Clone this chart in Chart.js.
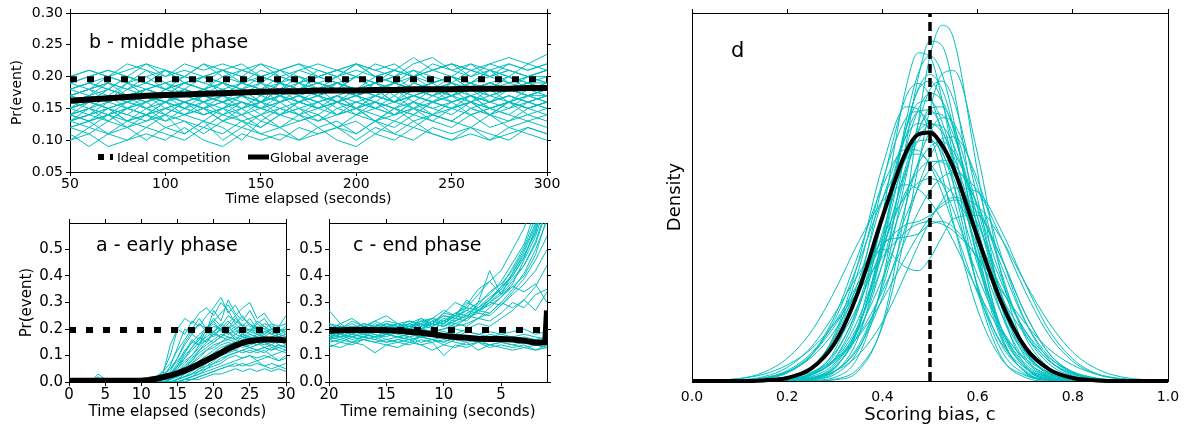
<!DOCTYPE html>
<html><head><meta charset="utf-8">
<script src="https://cdn.jsdelivr.net/npm/chart.js@4.4.1/dist/chart.umd.min.js"></script>
<style>
html,body{margin:0;padding:0;background:#fff;}
#wrap{position:relative;width:1187px;height:426px;overflow:hidden;background:#fff;}
canvas{position:absolute;}
</style></head><body>
<div id="wrap">
<canvas id="cb" width="570" height="215" style="left:0px;top:0px"></canvas>
<canvas id="ca" width="300" height="221" style="left:0px;top:205px"></canvas>
<canvas id="cc" width="270" height="221" style="left:290px;top:205px"></canvas>
<canvas id="cd" width="547" height="426" style="left:640px;top:0px"></canvas>
</div>
<script>
// ---------- Panel b: middle phase ----------
const B_X = [50,60,70,80,90,100,110,120,130,140,150,160,170,180,190,200,210,220,230,240,250,260,270,280,290,300];
const B_IDEAL = 0.196;
const B_MEAN = [0.162,0.164,0.166,0.168,0.170,0.171,0.172,0.173,0.174,0.175,0.176,0.177,0.177,0.178,0.178,0.178,0.179,0.179,0.180,0.180,0.180,0.181,0.181,0.181,0.182,0.182];
const B_RUNS = [
[0.19,0.20,0.21,0.20,0.19,0.21,0.20,0.22,0.20,0.21,0.20,0.19,0.21,0.20,0.21,0.22,0.20,0.21,0.20,0.22,0.21,0.20,0.22,0.21,0.20,0.21],
[0.20,0.21,0.20,0.22,0.21,0.20,0.22,0.21,0.22,0.21,0.22,0.20,0.21,0.22,0.21,0.20,0.22,0.21,0.23,0.21,0.22,0.21,0.22,0.23,0.22,0.235],
[0.18,0.19,0.18,0.20,0.19,0.18,0.19,0.20,0.19,0.18,0.20,0.19,0.20,0.19,0.18,0.20,0.19,0.20,0.21,0.19,0.20,0.19,0.21,0.20,0.19,0.20],
[0.17,0.18,0.19,0.17,0.18,0.19,0.18,0.17,0.19,0.18,0.19,0.18,0.20,0.18,0.19,0.18,0.19,0.20,0.18,0.19,0.20,0.18,0.19,0.20,0.19,0.19],
[0.16,0.17,0.18,0.17,0.16,0.18,0.17,0.18,0.19,0.17,0.18,0.17,0.18,0.19,0.18,0.17,0.18,0.19,0.18,0.17,0.19,0.18,0.19,0.18,0.17,0.18],
[0.15,0.16,0.17,0.16,0.18,0.17,0.16,0.17,0.18,0.17,0.16,0.18,0.17,0.16,0.17,0.18,0.17,0.16,0.18,0.17,0.18,0.16,0.17,0.18,0.17,0.18],
[0.14,0.15,0.16,0.17,0.15,0.16,0.17,0.16,0.15,0.17,0.16,0.17,0.16,0.18,0.16,0.17,0.16,0.15,0.17,0.16,0.17,0.18,0.16,0.17,0.16,0.17],
[0.15,0.14,0.16,0.15,0.17,0.15,0.16,0.15,0.17,0.16,0.14,0.16,0.17,0.15,0.16,0.17,0.15,0.16,0.17,0.16,0.15,0.17,0.16,0.15,0.17,0.16],
[0.14,0.15,0.13,0.15,0.16,0.14,0.16,0.15,0.14,0.16,0.15,0.17,0.15,0.14,0.16,0.15,0.16,0.14,0.16,0.15,0.16,0.17,0.15,0.16,0.15,0.16],
[0.13,0.14,0.15,0.13,0.14,0.16,0.14,0.15,0.13,0.15,0.16,0.14,0.15,0.16,0.14,0.15,0.13,0.15,0.16,0.14,0.15,0.16,0.14,0.15,0.16,0.15],
[0.13,0.12,0.14,0.13,0.15,0.13,0.14,0.15,0.13,0.14,0.12,0.14,0.15,0.13,0.14,0.15,0.13,0.14,0.15,0.14,0.13,0.15,0.14,0.16,0.14,0.15],
[0.12,0.13,0.11,0.13,0.12,0.14,0.11,0.13,0.12,0.10,0.13,0.12,0.14,0.12,0.13,0.11,0.13,0.12,0.14,0.13,0.12,0.14,0.12,0.13,0.14,0.13],
[0.11,0.09,0.11,0.12,0.10,0.12,0.11,0.13,0.10,0.12,0.11,0.12,0.10,0.11,0.12,0.11,0.13,0.11,0.10,0.12,0.11,0.12,0.10,0.11,0.12,0.11],
[0.10,0.11,0.09,0.10,0.11,0.10,0.12,0.10,0.09,0.11,0.10,0.11,0.10,0.12,0.10,0.09,0.11,0.10,0.12,0.11,0.10,0.11,0.10,0.12,0.11,0.10],
[0.18,0.19,0.20,0.19,0.21,0.19,0.20,0.19,0.21,0.20,0.19,0.21,0.20,0.19,0.20,0.21,0.20,0.19,0.21,0.20,0.19,0.21,0.20,0.21,0.20,0.21],
[0.16,0.17,0.16,0.18,0.17,0.16,0.18,0.17,0.18,0.17,0.19,0.17,0.18,0.17,0.19,0.18,0.17,0.19,0.18,0.17,0.18,0.19,0.17,0.18,0.19,0.18],
[0.15,0.16,0.15,0.14,0.16,0.17,0.15,0.16,0.17,0.15,0.16,0.17,0.16,0.15,0.17,0.16,0.17,0.16,0.15,0.17,0.16,0.17,0.15,0.16,0.17,0.16],
[0.14,0.13,0.15,0.14,0.13,0.15,0.14,0.16,0.14,0.15,0.13,0.15,0.14,0.16,0.14,0.15,0.14,0.13,0.15,0.14,0.16,0.14,0.15,0.14,0.16,0.15],
[0.19,0.20,0.21,0.20,0.22,0.20,0.21,0.20,0.21,0.22,0.20,0.21,0.22,0.21,0.20,0.22,0.21,0.22,0.20,0.21,0.22,0.21,0.20,0.22,0.21,0.22],
[0.17,0.16,0.18,0.17,0.18,0.19,0.17,0.18,0.17,0.19,0.18,0.17,0.19,0.18,0.19,0.17,0.18,0.19,0.18,0.19,0.17,0.18,0.19,0.18,0.19,0.18],
[0.15,0.16,0.17,0.15,0.16,0.17,0.16,0.17,0.16,0.15,0.17,0.16,0.17,0.16,0.17,0.15,0.17,0.16,0.17,0.18,0.16,0.17,0.16,0.17,0.16,0.17],
[0.12,0.11,0.13,0.12,0.14,0.12,0.13,0.11,0.13,0.12,0.14,0.12,0.13,0.14,0.12,0.13,0.11,0.13,0.12,0.14,0.13,0.12,0.14,0.12,0.13,0.12],
[0.17,0.18,0.17,0.19,0.18,0.17,0.19,0.18,0.19,0.18,0.17,0.19,0.18,0.19,0.18,0.20,0.18,0.19,0.18,0.19,0.20,0.18,0.19,0.18,0.20,0.19],
[0.13,0.14,0.13,0.15,0.14,0.13,0.15,0.14,0.15,0.13,0.14,0.15,0.14,0.13,0.15,0.14,0.15,0.14,0.15,0.13,0.15,0.14,0.15,0.14,0.13,0.14],
[0.18,0.19,0.18,0.20,0.19,0.21,0.19,0.20,0.19,0.21,0.20,0.21,0.19,0.20,0.21,0.20,0.19,0.21,0.20,0.21,0.20,0.22,0.20,0.21,0.20,0.21],
[0.16,0.15,0.17,0.16,0.17,0.16,0.18,0.16,0.17,0.18,0.16,0.17,0.18,0.17,0.16,0.18,0.17,0.18,0.16,0.18,0.17,0.18,0.17,0.16,0.18,0.17],
[0.14,0.13,0.14,0.15,0.14,0.16,0.15,0.14,0.15,0.16,0.15,0.14,0.16,0.15,0.16,0.14,0.16,0.15,0.14,0.16,0.15,0.16,0.15,0.16,0.15,0.16],
[0.10,0.12,0.11,0.10,0.12,0.11,0.10,0.12,0.11,0.13,0.11,0.10,0.12,0.11,0.12,0.10,0.12,0.11,0.13,0.11,0.10,0.12,0.11,0.10,0.12,0.11],
[0.17,0.18,0.19,0.18,0.19,0.18,0.20,0.19,0.18,0.19,0.20,0.19,0.18,0.20,0.19,0.20,0.19,0.18,0.20,0.19,0.20,0.19,0.20,0.19,0.20,0.19],
[0.16,0.17,0.16,0.17,0.18,0.17,0.18,0.17,0.16,0.18,0.17,0.18,0.19,0.17,0.18,0.17,0.19,0.18,0.17,0.18,0.19,0.17,0.18,0.19,0.18,0.19],
[0.15,0.16,0.15,0.16,0.17,0.16,0.15,0.17,0.16,0.17,0.16,0.18,0.16,0.17,0.16,0.17,0.18,0.16,0.17,0.16,0.18,0.17,0.16,0.18,0.17,0.18],
[0.14,0.15,0.14,0.16,0.15,0.14,0.16,0.15,0.16,0.14,0.16,0.15,0.16,0.17,0.15,0.16,0.15,0.17,0.15,0.16,0.17,0.15,0.16,0.17,0.16,0.17],
[0.19,0.18,0.20,0.19,0.20,0.21,0.19,0.20,0.21,0.19,0.21,0.20,0.19,0.21,0.20,0.22,0.20,0.21,0.20,0.21,0.22,0.20,0.21,0.20,0.22,0.21],
[0.13,0.14,0.15,0.13,0.14,0.15,0.14,0.13,0.15,0.14,0.15,0.16,0.14,0.15,0.14,0.16,0.15,0.14,0.16,0.15,0.14,0.16,0.15,0.16,0.15,0.16],
[0.17,0.18,0.16,0.19,0.17,0.16,0.18,0.20,0.17,0.18,0.16,0.19,0.17,0.18,0.20,0.17,0.18,0.16,0.19,0.18,0.17,0.19,0.18,0.20,0.18,0.19],
[0.18,0.17,0.19,0.18,0.20,0.18,0.19,0.18,0.20,0.19,0.18,0.20,0.19,0.20,0.19,0.18,0.20,0.19,0.20,0.18,0.20,0.19,0.21,0.19,0.20,0.20],
[0.14,0.16,0.15,0.16,0.15,0.17,0.16,0.15,0.16,0.17,0.15,0.16,0.17,0.16,0.17,0.15,0.17,0.16,0.17,0.16,0.17,0.16,0.18,0.16,0.17,0.17],
[0.12,0.13,0.14,0.12,0.13,0.14,0.13,0.12,0.14,0.13,0.12,0.14,0.13,0.14,0.12,0.14,0.13,0.15,0.13,0.14,0.13,0.15,0.14,0.13,0.15,0.14],
[0.20,0.21,0.20,0.21,0.22,0.21,0.20,0.22,0.21,0.20,0.22,0.21,0.22,0.20,0.21,0.22,0.21,0.20,0.22,0.23,0.21,0.22,0.21,0.22,0.21,0.22],
[0.15,0.17,0.16,0.17,0.16,0.18,0.17,0.16,0.18,0.17,0.18,0.16,0.18,0.17,0.18,0.17,0.16,0.18,0.17,0.18,0.17,0.18,0.17,0.18,0.17,0.18],
[0.17,0.16,0.18,0.17,0.18,0.17,0.19,0.18,0.17,0.19,0.18,0.19,0.18,0.17,0.19,0.18,0.19,0.17,0.19,0.18,0.19,0.18,0.19,0.18,0.19,0.18],
[0.13,0.15,0.14,0.15,0.14,0.15,0.16,0.14,0.15,0.16,0.15,0.14,0.16,0.15,0.16,0.15,0.16,0.15,0.14,0.16,0.15,0.16,0.14,0.16,0.15,0.16]
];
const B_X_TICKS = [50,100,150,200,250,300];
const B_X_LABELS = ['50','100','150','200','250','300'];
const B_Y_TICKS = [0.05,0.10,0.15,0.20,0.25,0.30];
const B_Y_LABELS = ['0.05','0.10','0.15','0.20','0.25','0.30'];

// ---------- Panel a: early phase ----------
const A_X = [0,1,2,3,4,5,6,7,8,9,10,11,12,13,14,15,16,17,18,19,20,21,22,23,24,25,26,27,28,29,30];
const A_MEAN = [0.005,0.005,0.005,0.005,0.005,0.005,0.005,0.005,0.005,0.005,0.005,0.008,0.012,0.018,0.025,0.033,0.043,0.055,0.068,0.082,0.096,0.11,0.125,0.138,0.148,0.155,0.158,0.16,0.16,0.159,0.157];
const A_RUNS = [
[0,0,0,0,0,0,0,0,0,0,0,0,0.01,0.04,0.1,0.2,0.24,0.22,0.26,0.28,0.25,0.3,0.27,0.22,0.25,0.21,0.2,0.18,0.2,0.19,0.2],
[0,0.01,0,0,0.02,0,0,0,0,0,0,0,0.01,0.03,0.14,0.2,0.18,0.23,0.21,0.25,0.28,0.32,0.26,0.29,0.24,0.22,0.2,0.21,0.19,0.2,0.18],
[0,0,0,0,0.03,0.01,0,0,0,0,0,0.01,0.02,0.04,0.07,0.12,0.16,0.2,0.24,0.2,0.23,0.26,0.29,0.25,0.28,0.3,0.24,0.26,0.22,0.19,0.2],
[0.01,0,0,0,0,0,0,0,0,0,0,0,0.01,0.02,0.05,0.09,0.14,0.18,0.16,0.21,0.19,0.22,0.2,0.24,0.21,0.19,0.22,0.2,0.18,0.19,0.21],
[0,0,0,0,0,0,0,0,0,0,0.01,0.01,0.02,0.03,0.05,0.08,0.11,0.15,0.18,0.2,0.22,0.19,0.21,0.18,0.2,0.22,0.19,0.18,0.2,0.17,0.16],
[0,0,0,0,0,0,0,0,0,0,0,0,0.01,0.02,0.03,0.06,0.09,0.12,0.15,0.17,0.19,0.21,0.18,0.2,0.17,0.19,0.18,0.16,0.17,0.18,0.17],
[0,0,0,0,0,0,0,0,0,0,0,0,0,0.01,0.03,0.05,0.08,0.1,0.13,0.16,0.18,0.17,0.19,0.16,0.18,0.17,0.16,0.18,0.16,0.17,0.15],
[0,0,0,0,0,0,0,0,0,0,0,0,0,0.01,0.02,0.04,0.06,0.09,0.12,0.14,0.16,0.18,0.17,0.16,0.18,0.16,0.17,0.15,0.16,0.15,0.16],
[0,0,0,0,0,0,0,0,0,0,0,0,0,0,0.01,0.03,0.05,0.07,0.1,0.12,0.14,0.15,0.17,0.16,0.15,0.17,0.16,0.15,0.14,0.16,0.15],
[0,0,0,0,0,0,0,0,0,0,0,0,0,0,0.01,0.02,0.04,0.06,0.08,0.1,0.12,0.14,0.15,0.14,0.16,0.15,0.14,0.15,0.16,0.14,0.13],
[0,0,0,0,0,0,0,0,0,0,0,0,0,0,0.01,0.02,0.03,0.05,0.07,0.09,0.11,0.13,0.14,0.15,0.13,0.14,0.15,0.13,0.14,0.13,0.14],
[0,0,0,0,0,0,0,0,0,0,0,0,0,0,0,0.01,0.02,0.04,0.06,0.08,0.1,0.11,0.13,0.12,0.14,0.13,0.12,0.13,0.12,0.13,0.12],
[0,0,0,0,0,0,0,0,0,0,0,0,0,0,0,0.01,0.02,0.03,0.05,0.06,0.08,0.1,0.11,0.12,0.11,0.12,0.11,0.12,0.1,0.11,0.12],
[0,0,0,0,0,0,0,0,0,0,0,0,0,0,0,0,0.01,0.02,0.03,0.05,0.06,0.07,0.09,0.1,0.09,0.1,0.09,0.1,0.09,0.08,0.1],
[0,0,0,0,0,0,0,0,0,0,0,0,0,0,0,0,0.01,0.01,0.02,0.03,0.04,0.05,0.06,0.07,0.06,0.07,0.08,0.06,0.07,0.06,0.07],
[0,0,0,0,0,0,0,0,0,0,0,0,0,0,0,0,0,0.01,0.01,0.02,0.03,0.03,0.04,0.05,0.04,0.05,0.04,0.05,0.04,0.05,0.04],
[0,0,0,0,0,0,0,0,0,0,0,0,0.01,0.02,0.06,0.13,0.2,0.18,0.22,0.19,0.27,0.23,0.31,0.26,0.23,0.27,0.22,0.24,0.2,0.21,0.22],
[0,0,0,0,0,0,0,0,0,0,0,0,0,0.01,0.02,0.06,0.1,0.13,0.17,0.15,0.19,0.17,0.2,0.22,0.19,0.2,0.18,0.19,0.2,0.18,0.19],
[0,0,0,0,0,0,0,0,0,0,0,0,0,0,0.01,0.03,0.06,0.08,0.11,0.13,0.15,0.17,0.16,0.18,0.17,0.16,0.18,0.17,0.16,0.17,0.18],
[0,0,0,0,0,0,0,0,0,0,0,0,0,0,0,0.01,0.02,0.03,0.04,0.06,0.07,0.09,0.1,0.11,0.12,0.13,0.12,0.13,0.12,0.14,0.13],
[0,0,0,0,0,0,0,0,0.01,0,0,0,0,0.01,0.03,0.07,0.12,0.15,0.14,0.18,0.21,0.2,0.23,0.2,0.22,0.19,0.21,0.2,0.22,0.21,0.25],
[0,0,0,0,0,0,0,0,0,0,0,0,0,0,0,0,0.01,0.02,0.03,0.04,0.05,0.06,0.07,0.08,0.09,0.1,0.08,0.09,0.1,0.08,0.09],
[0,0,0,0,0,0,0,0,0,0,0,0,0,0.01,0.04,0.09,0.15,0.19,0.22,0.2,0.24,0.21,0.25,0.23,0.21,0.24,0.2,0.22,0.21,0.2,0.19],
[0,0,0,0,0,0,0,0,0,0,0,0,0,0.01,0.02,0.05,0.09,0.13,0.16,0.19,0.17,0.2,0.19,0.21,0.18,0.2,0.19,0.17,0.19,0.18,0.17],
[0,0,0,0,0,0,0,0,0,0,0,0,0,0,0.01,0.03,0.05,0.08,0.12,0.15,0.18,0.2,0.18,0.19,0.2,0.18,0.17,0.19,0.18,0.17,0.18],
[0,0,0,0,0,0,0,0,0,0,0,0,0,0,0.01,0.02,0.04,0.07,0.09,0.12,0.13,0.15,0.16,0.15,0.17,0.16,0.15,0.16,0.15,0.16,0.14],
[0,0,0,0,0,0,0,0,0,0,0,0,0,0,0,0.01,0.03,0.05,0.07,0.09,0.11,0.12,0.14,0.15,0.14,0.16,0.15,0.14,0.15,0.16,0.15],
[0,0,0,0,0,0,0,0,0,0,0,0,0,0,0,0.01,0.02,0.03,0.05,0.07,0.09,0.1,0.12,0.13,0.14,0.13,0.14,0.15,0.13,0.14,0.13],
[0,0,0,0,0,0,0,0,0,0,0,0,0,0,0,0,0.01,0.02,0.04,0.05,0.07,0.08,0.1,0.11,0.12,0.11,0.12,0.11,0.13,0.12,0.11],
[0,0,0,0,0,0,0,0,0,0,0,0,0,0.01,0.03,0.06,0.11,0.16,0.14,0.2,0.23,0.19,0.22,0.25,0.21,0.19,0.23,0.21,0.18,0.2,0.19],
[0,0,0,0,0,0,0,0,0,0,0,0,0,0,0.01,0.04,0.07,0.1,0.14,0.16,0.15,0.17,0.19,0.17,0.16,0.18,0.17,0.16,0.17,0.15,0.16],
[0,0,0,0,0,0,0,0,0,0,0,0,0,0,0,0,0,0.01,0.02,0.03,0.04,0.05,0.06,0.06,0.07,0.06,0.07,0.06,0.05,0.06,0.05]
];
const A_X_TICKS = [0,5,10,15,20,25,30];
const A_X_LABELS = ['0','5','10','15','20','25','30'];
const AC_Y_TICKS = [0,0.1,0.2,0.3,0.4,0.5];
const AC_Y_LABELS = ['0.0','0.1','0.2','0.3','0.4','0.5'];
const AC_IDEAL = 0.196;

// ---------- Panel c: end phase ----------
const C_X = [20,19,18,17,16,15,14,13,12,11,10,9,8,7,6,5,4,3,2,1];
const C_MEAN_X = [20,19,18,17,16,15,14,13,12,11,10,9,8,7,6,5,4,3,2,1.15,1.0];
const C_MEAN = [0.193,0.195,0.196,0.197,0.196,0.195,0.193,0.19,0.186,0.18,0.174,0.17,0.167,0.163,0.162,0.162,0.16,0.156,0.148,0.15,0.27];
const C_RUNS = [
[0.2,0.22,0.19,0.21,0.2,0.22,0.21,0.2,0.23,0.22,0.25,0.24,0.27,0.3,0.33,0.38,0.45,0.52,0.65,0.8],
[0.18,0.2,0.21,0.19,0.22,0.2,0.19,0.21,0.2,0.23,0.22,0.26,0.25,0.29,0.34,0.37,0.42,0.5,0.6,0.75],
[0.21,0.19,0.2,0.22,0.21,0.2,0.22,0.23,0.21,0.24,0.27,0.25,0.3,0.28,0.32,0.35,0.4,0.47,0.57,0.7],
[0.19,0.21,0.2,0.18,0.2,0.21,0.2,0.22,0.24,0.22,0.26,0.3,0.28,0.33,0.38,0.42,0.5,0.58,0.7,0.9],
[0.22,0.2,0.23,0.21,0.19,0.22,0.21,0.23,0.22,0.21,0.23,0.25,0.27,0.26,0.3,0.34,0.39,0.44,0.52,0.65],
[0.17,0.19,0.18,0.2,0.19,0.21,0.2,0.19,0.21,0.22,0.21,0.24,0.23,0.27,0.29,0.32,0.36,0.4,0.48,0.62],
[0.2,0.18,0.2,0.19,0.21,0.19,0.2,0.22,0.2,0.21,0.23,0.22,0.24,0.3,0.42,0.33,0.36,0.34,0.37,0.3],
[0.16,0.18,0.17,0.19,0.18,0.17,0.19,0.18,0.2,0.19,0.2,0.22,0.21,0.24,0.23,0.26,0.3,0.28,0.33,0.35],
[0.27,0.22,0.24,0.21,0.23,0.25,0.22,0.21,0.23,0.24,0.22,0.25,0.31,0.27,0.26,0.3,0.28,0.31,0.27,0.34],
[0.18,0.17,0.19,0.18,0.17,0.19,0.18,0.17,0.18,0.2,0.19,0.18,0.2,0.22,0.21,0.24,0.27,0.31,0.36,0.44],
[0.19,0.2,0.18,0.2,0.19,0.18,0.2,0.19,0.18,0.19,0.18,0.17,0.19,0.18,0.17,0.18,0.17,0.18,0.17,0.16],
[0.17,0.18,0.16,0.17,0.18,0.16,0.17,0.16,0.17,0.16,0.15,0.17,0.16,0.15,0.16,0.15,0.16,0.15,0.14,0.15],
[0.15,0.16,0.15,0.17,0.16,0.15,0.16,0.17,0.15,0.16,0.14,0.16,0.15,0.16,0.14,0.15,0.14,0.15,0.14,0.13],
[0.13,0.15,0.14,0.16,0.15,0.14,0.15,0.14,0.16,0.15,0.1,0.14,0.13,0.15,0.13,0.14,0.13,0.14,0.12,0.13],
[0.14,0.13,0.15,0.14,0.11,0.14,0.13,0.15,0.14,0.12,0.14,0.13,0.15,0.12,0.14,0.13,0.12,0.13,0.12,0.14],
[0.2,0.21,0.19,0.2,0.21,0.22,0.2,0.21,0.2,0.22,0.21,0.23,0.25,0.24,0.28,0.32,0.37,0.46,0.55,0.68],
[0.18,0.19,0.2,0.18,0.19,0.2,0.19,0.18,0.2,0.19,0.18,0.2,0.19,0.18,0.19,0.18,0.19,0.2,0.18,0.19],
[0.2,0.19,0.21,0.2,0.19,0.21,0.2,0.21,0.22,0.2,0.22,0.21,0.24,0.26,0.25,0.29,0.34,0.39,0.46,0.55],
[0.16,0.17,0.15,0.16,0.17,0.15,0.16,0.15,0.17,0.16,0.15,0.17,0.16,0.17,0.16,0.15,0.16,0.17,0.16,0.15],
[0.21,0.2,0.22,0.2,0.23,0.21,0.22,0.2,0.24,0.22,0.26,0.25,0.29,0.35,0.38,0.33,0.41,0.48,0.56,0.72],
[0.19,0.2,0.19,0.21,0.2,0.19,0.21,0.2,0.21,0.23,0.25,0.24,0.28,0.27,0.31,0.36,0.43,0.51,0.62,0.85],
[0.17,0.16,0.18,0.17,0.16,0.18,0.17,0.16,0.17,0.18,0.17,0.16,0.17,0.16,0.18,0.17,0.16,0.15,0.16,0.17],
[0.19,0.18,0.2,0.19,0.2,0.19,0.21,0.2,0.22,0.21,0.24,0.23,0.26,0.28,0.31,0.35,0.41,0.49,0.59,0.78],
[0.18,0.19,0.18,0.2,0.19,0.18,0.2,0.21,0.2,0.22,0.21,0.23,0.25,0.27,0.3,0.33,0.38,0.44,0.53,0.66],
[0.2,0.21,0.2,0.19,0.21,0.2,0.21,0.22,0.21,0.23,0.22,0.25,0.24,0.27,0.31,0.36,0.4,0.47,0.58,0.72],
[0.17,0.18,0.17,0.18,0.17,0.18,0.17,0.18,0.17,0.16,0.17,0.18,0.17,0.16,0.17,0.16,0.17,0.16,0.15,0.16],
[0.16,0.15,0.17,0.16,0.15,0.16,0.15,0.16,0.14,0.15,0.16,0.15,0.14,0.15,0.14,0.15,0.14,0.13,0.14,0.13],
[0.22,0.21,0.2,0.22,0.21,0.23,0.22,0.21,0.22,0.24,0.23,0.26,0.28,0.27,0.3,0.29,0.33,0.37,0.42,0.5],
[0.19,0.2,0.21,0.2,0.19,0.2,0.19,0.21,0.2,0.19,0.2,0.21,0.22,0.24,0.26,0.3,0.35,0.41,0.5,0.61],
[0.18,0.17,0.18,0.17,0.19,0.18,0.17,0.18,0.17,0.18,0.17,0.16,0.17,0.16,0.17,0.16,0.17,0.16,0.16,0.15]
];
const C_X_TICKS = [20,15,10,5];
const C_X_LABELS = ['20','15','10','5'];

// ---------- Panel d: scoring bias densities ----------
const D_X = [0,0.1,0.15,0.2,0.25,0.3,0.35,0.4,0.45,0.475,0.5,0.525,0.55,0.6,0.65,0.7,0.75,0.8,0.85,0.9,1.0];
const D_MEAN = [0,0,0.01,0.05,0.2,0.62,1.47,2.67,3.74,4.02,4.05,3.85,3.46,2.34,1.28,0.55,0.19,0.05,0.01,0,0];
const D_IDEAL = 0.5;
const D_RUNS = [
[0,0,0,0,0,0.02,0.17,0.93,2.9,4.2,5.3,5.8,5.57,3.4,1.23,0.25,0.03,0,0,0,0],
[0,0,0,0,0.03,0.2,0.93,2.7,4.8,5.35,5.28,4.6,3.6,1.5,0.39,0.06,0,0,0,0,0],
[0,0,0,0,0.04,0.22,0.86,2.29,4.12,4.76,5.0,4.76,4.12,2.29,0.86,0.22,0.04,0,0,0,0],
[0,0,0,0.01,0.05,0.26,0.9,2.19,3.81,4.42,4.69,4.57,4.08,2.51,1.1,0.34,0.07,0.01,0,0,0],
[0,0,0,0.01,0.07,0.29,0.9,2.09,3.52,4.08,4.37,4.34,4.0,2.67,1.31,0.48,0.12,0.02,0,0,0],
[0,0,0.01,0.05,0.22,0.7,1.64,2.95,3.99,4.2,4.11,3.76,3.19,1.9,0.85,0.28,0.07,0.02,0,0,0],
[0,0,0,0.02,0.1,0.35,0.92,1.9,3.05,3.53,3.82,3.9,3.73,2.83,1.68,0.77,0.28,0.08,0.02,0,0],
[0,0.01,0.04,0.14,0.41,1.0,1.93,2.96,3.63,3.7,3.55,3.23,2.77,1.72,0.86,0.34,0.1,0.03,0,0,0],
[0,0,0.01,0.03,0.11,0.32,0.75,1.46,2.33,2.75,3.1,3.32,3.4,3.1,2.33,1.46,0.75,0.32,0.11,0.03,0],
[0,0,0.01,0.05,0.14,0.35,0.73,1.32,2.04,2.38,2.67,2.89,2.99,2.85,2.32,1.6,0.95,0.47,0.2,0.07,0],
[0,0.01,0.05,0.17,0.45,0.95,1.6,2.15,1.85,1.8,2.0,2.35,2.65,2.7,2.0,1.1,0.45,0.15,0.04,0.01,0],
[0,0.02,0.07,0.22,0.55,1.1,1.75,2.25,2.35,2.4,2.55,2.6,2.5,2.0,1.35,0.75,0.33,0.12,0.03,0.01,0],
[0,0,0,0,0.04,0.22,0.87,2.33,4.14,4.74,4.89,4.56,3.81,1.97,0.68,0.15,0.02,0,0,0,0],
[0,0,0,0.01,0.05,0.23,0.78,1.91,3.42,4.06,4.44,4.47,4.15,2.81,1.4,0.5,0.13,0.02,0,0,0],
[0,0,0,0.02,0.11,0.43,1.26,2.64,4.01,4.39,4.42,4.11,3.53,2.04,0.85,0.25,0.06,0.01,0,0,0],
[0,0,0,0.03,0.1,0.33,0.84,1.67,2.7,3.14,3.45,3.6,3.53,2.88,1.88,0.97,0.4,0.13,0.04,0.01,0],
[0,0.01,0.03,0.13,0.42,1.06,2.08,3.17,3.78,3.76,3.51,3.08,2.53,1.43,0.62,0.21,0.06,0.01,0,0,0],
[0,0.04,0.11,0.26,0.52,0.94,1.47,2.02,2.44,2.56,2.6,2.56,2.44,2.02,1.47,0.94,0.52,0.26,0.11,0.04,0],
[0,0,0,0.02,0.1,0.37,1.02,2.14,3.45,3.92,4.18,4.15,3.84,2.67,1.42,0.57,0.17,0.04,0.01,0,0],
[0,0,0,0,0,0.03,0.21,0.89,2.48,3.49,4.43,5.0,5.06,3.7,1.73,0.53,0.1,0.01,0,0,0],
[0,0,0,0.02,0.11,0.5,1.53,3.2,4.64,4.85,4.64,4.03,3.2,1.53,0.5,0.11,0.02,0,0,0,0],
[0,0,0,0.01,0.05,0.16,0.43,0.96,1.77,2.21,2.61,2.94,3.15,3.08,2.45,1.59,0.83,0.36,0.12,0.04,0],
[0,0,0,0,0.02,0.15,0.72,2.17,4.25,5.01,5.3,5.01,4.25,2.17,0.72,0.15,0.02,0,0,0,0],
[0,0,0,0.01,0.09,0.37,1.18,2.62,4.12,4.53,4.57,4.23,3.57,2.0,0.79,0.22,0.04,0.01,0,0,0],
[0,0,0,0,0.02,0.11,0.51,1.59,3.34,4.18,4.75,4.89,4.57,2.97,1.31,0.39,0.08,0.01,0,0,0],
[0,0,0.01,0.05,0.22,0.73,1.81,3.25,4.29,4.39,4.17,3.65,2.96,1.56,0.59,0.17,0.03,0,0,0,0],
[0,0,0.02,0.07,0.22,0.58,1.26,2.18,3.1,3.42,3.58,3.57,3.37,2.57,1.61,0.81,0.33,0.11,0.03,0.01,0],
[0,0.01,0.05,0.15,0.38,0.82,1.51,2.34,3.03,3.23,3.3,3.23,3.03,2.34,1.51,0.82,0.38,0.15,0.05,0.01,0],
[0,0,0.01,0.04,0.21,0.77,1.96,3.5,4.47,4.43,4.03,3.37,2.56,1.16,0.36,0.09,0.01,0,0,0,0],
[0,0,0,0.01,0.04,0.16,0.54,1.36,2.55,3.17,3.66,3.95,3.98,3.28,2.04,0.98,0.35,0.09,0.02,0,0],
[0,0,0,0.03,0.13,0.46,1.21,2.42,3.66,4.06,4.2,4.06,3.66,2.42,1.21,0.46,0.13,0.03,0,0,0],
[0,0.01,0.04,0.15,0.42,0.9,1.55,2.2,2.55,2.6,2.7,2.85,2.95,2.75,2.0,1.1,0.45,0.14,0.04,0.01,0],
[0,0,0.01,0.06,0.22,0.65,1.48,2.63,3.65,3.91,3.93,3.72,3.3,2.16,1.1,0.43,0.13,0.03,0.01,0,0],
[0,0,0,0,0.01,0.06,0.41,1.63,3.88,4.94,5.54,5.47,4.76,2.44,0.76,0.14,0.01,0,0,0,0],
[0,0,0,0,0.03,0.16,0.58,1.52,2.89,3.57,4.07,4.29,4.2,3.17,1.77,0.72,0.22,0.05,0.01,0,0],
[0,0.04,0.14,0.37,0.8,1.47,2.27,2.93,3.2,3.13,2.93,2.63,2.27,1.47,0.8,0.37,0.14,0.04,0.01,0,0]
];
const D_X_TICKS = [0,0.2,0.4,0.6,0.8,1.0];
const D_X_LABELS = ['0.0','0.2','0.4','0.6','0.8','1.0'];

// ---------- helpers ----------
const FONT = 'DejaVu Sans';
const CYAN = '#00BFBF';
Chart.defaults.font.family = FONT;
Chart.defaults.color = '#000';

function pts(xs, ys){ return ys.map((y,i)=>({x:xs[i], y:y})); }

function axis(o){
  const horiz = (o.pos==='top'||o.pos==='bottom');
  return {
    type:'linear', position:o.pos, min:o.min, max:o.max, reverse:!!o.reverse,
    afterBuildTicks: s => { s.ticks = o.ticks.map(v=>({value:v})); },
    afterFit: s => { if (horiz) s.height = o.size; else s.width = o.size; },
    border:{display:true, color:'#000', width:1},
    grid:{display:true, drawOnChartArea:false, drawTicks: o.drawTicks!==false, tickLength: o.tl!=null?o.tl:4,
          tickColor: o.tickColor||'#000', tickWidth:1, color:'#000'},
    ticks:{display:!!o.labels, color:'#000', font:{family:FONT, size:o.fs||15}, padding:o.pad!=null?o.pad:0,
           maxRotation:0, minRotation:0, autoSkip:false, callback:(v,i)=> o.labels ? o.labels[i] : ''},
    title: o.title ? {display:true, text:o.title, color:'#000', font:{family:FONT, size:o.tfs||15}, padding:o.tpad} : {display:false}
  };
}

function textPlugin(items, extra){
  return { id:'txt', afterDraw(chart){
    const c = chart.ctx; c.save();
    items.forEach(t=>{ c.font = t.size+'px "'+FONT+'"'; c.fillStyle='#000'; c.textBaseline='alphabetic'; c.textAlign='left'; c.fillText(t.text, t.x, t.y); });
    if (extra) extra(c);
    c.restore();
  }};
}

const baseOpts = { responsive:false, animation:false, events:[], layout:{padding:0},
  plugins:{legend:{display:false}, tooltip:{enabled:false}} };

// ---------- chart b ----------
const bDatasets = [
  {data:pts(B_X,B_MEAN), borderColor:'#000', borderWidth:6, pointRadius:0, tension:0, order:0, borderCapStyle:'butt'},
  {data:[{x:50,y:B_IDEAL},{x:300,y:B_IDEAL}], borderColor:'#000', borderWidth:6, borderDash:[7,10], pointRadius:0, order:1, borderCapStyle:'butt'}
].concat(B_RUNS.map(r=>({data:pts(B_X,r), borderColor:CYAN, borderWidth:1, pointRadius:0, tension:0, order:2})));

new Chart(document.getElementById('cb'), {
  type:'line', data:{datasets:bDatasets},
  options: Object.assign({}, baseOpts, {
    scales:{
      x: axis({pos:'bottom', min:50, max:300, ticks:B_X_TICKS, labels:B_X_LABELS, size:43, fs:14, tl:4, pad:0,
               title:'Time elapsed (seconds)', tfs:14, tpad:{top:0,bottom:7}}),
      y: axis({pos:'left', min:0.05, max:0.30, ticks:B_Y_TICKS, labels:B_Y_LABELS, size:70, fs:14, tl:4, pad:3,
               title:'Pr(event)', tfs:14, tpad:{top:9,bottom:0}}),
      xt: axis({pos:'top', min:50, max:300, ticks:B_X_TICKS, size:13, tl:4}),
      yr: axis({pos:'right', min:0.05, max:0.30, ticks:B_Y_TICKS, size:23, tl:4})
    }
  }),
  plugins:[textPlugin([{text:'b - middle phase', x:89, y:48, size:19},
                       {text:'Ideal competition', x:117, y:161.5, size:13},
                       {text:'Global average', x:270, y:161.5, size:13}],
    c => { c.fillStyle='#000'; c.fillRect(98,154,6,6); c.fillRect(110,154,3,6); c.fillRect(248,154.5,21,5); })]
});

// ---------- chart a ----------
const aDatasets = [
  {data:pts(A_X,A_MEAN), borderColor:'#000', borderWidth:6, pointRadius:0, tension:0, order:0, borderCapStyle:'butt'},
  {data:[{x:0,y:AC_IDEAL},{x:30,y:AC_IDEAL}], borderColor:'#000', borderWidth:6, borderDash:[7,10], pointRadius:0, order:1, borderCapStyle:'butt'}
].concat(A_RUNS.map(r=>({data:pts(A_X,r), borderColor:CYAN, borderWidth:1, pointRadius:0, tension:0, order:2})));

new Chart(document.getElementById('ca'), {
  type:'line', data:{datasets:aDatasets},
  options: Object.assign({}, baseOpts, {
    scales:{
      x: axis({pos:'bottom', min:0, max:30, ticks:A_X_TICKS, labels:A_X_LABELS, size:44, fs:15, tl:4, pad:0,
               title:'Time elapsed (seconds)', tfs:15, tpad:{top:0,bottom:5}}),
      y: axis({pos:'left', min:0, max:0.6, ticks:AC_Y_TICKS, labels:AC_Y_LABELS, size:69, fs:15, tl:4, pad:2,
               title:'Pr(event)', tfs:15, tpad:{top:18,bottom:0}}),
      xt: axis({pos:'top', min:0, max:30, ticks:A_X_TICKS, size:18, tl:4}),
      yr: axis({pos:'right', min:0, max:0.6, ticks:AC_Y_TICKS, size:14, tl:4})
    }
  }),
  plugins:[textPlugin([{text:'a - early phase', x:96, y:46, size:19}])]
});

// ---------- chart c ----------
const cDatasets = [
  {data:pts(C_MEAN_X,C_MEAN), borderColor:'#000', borderWidth:6, pointRadius:0, tension:0, order:0, borderCapStyle:'butt'},
  {data:[{x:20,y:AC_IDEAL},{x:1,y:AC_IDEAL}], borderColor:'#000', borderWidth:6, borderDash:[7,10], pointRadius:0, order:1, borderCapStyle:'butt'}
].concat(C_RUNS.map(r=>({data:pts(C_X,r), borderColor:CYAN, borderWidth:1, pointRadius:0, tension:0, order:2})));

new Chart(document.getElementById('cc'), {
  type:'line', data:{datasets:cDatasets},
  options: Object.assign({}, baseOpts, {
    scales:{
      x: axis({pos:'bottom', min:1, max:20, reverse:true, ticks:C_X_TICKS, labels:C_X_LABELS, size:44, fs:15, tl:4, pad:0,
               title:'Time remaining (seconds)', tfs:15, tpad:{top:0,bottom:5}}),
      y: axis({pos:'left', min:0, max:0.6, ticks:AC_Y_TICKS, labels:AC_Y_LABELS, size:39, fs:15, tl:4, pad:2}),
      xt: axis({pos:'top', min:1, max:20, reverse:true, ticks:C_X_TICKS, size:18, tl:4}),
      yr: axis({pos:'right', min:0, max:0.6, ticks:AC_Y_TICKS, size:13, tl:4})
    }
  }),
  plugins:[textPlugin([{text:'c - end phase', x:63, y:46, size:19}])]
});

// ---------- chart d ----------
const dDatasets = [
  {data:pts(D_X,D_MEAN), borderColor:'#000', borderWidth:4, pointRadius:0, cubicInterpolationMode:'monotone', order:0, clip:{left:0,right:0,top:0,bottom:4}},
  {data:[{x:D_IDEAL,y:0},{x:D_IDEAL,y:6}], borderColor:'#000', borderWidth:3.5, borderDash:[9,5], pointRadius:0, order:1, borderCapStyle:'butt'}
].concat(D_RUNS.map(r=>({data:pts(D_X,r), borderColor:CYAN, borderWidth:1, pointRadius:0, cubicInterpolationMode:'monotone', order:2})));

new Chart(document.getElementById('cd'), {
  type:'line', data:{datasets:dDatasets},
  options: Object.assign({}, baseOpts, {
    scales:{
      x: axis({pos:'bottom', min:0, max:1, ticks:D_X_TICKS, labels:D_X_LABELS, size:45, fs:14, tl:4, pad:4, tickColor:'rgba(0,0,0,0)',
               title:'Scoring bias, c', tfs:18, tpad:{top:0,bottom:0}}),
      y: axis({pos:'left', min:0, max:6, ticks:[0,6], size:52, drawTicks:false, title:'Density', tfs:18, tpad:{top:25,bottom:0}}),
      xt: axis({pos:'top', min:0, max:1, ticks:D_X_TICKS, size:13, tl:4}),
      yr: axis({pos:'right', min:0, max:6, ticks:[0,6], size:19, drawTicks:false})
    }
  }),
  plugins:[textPlugin([{text:'d', x:91, y:57, size:21}])]
});
</script>
</body></html>
